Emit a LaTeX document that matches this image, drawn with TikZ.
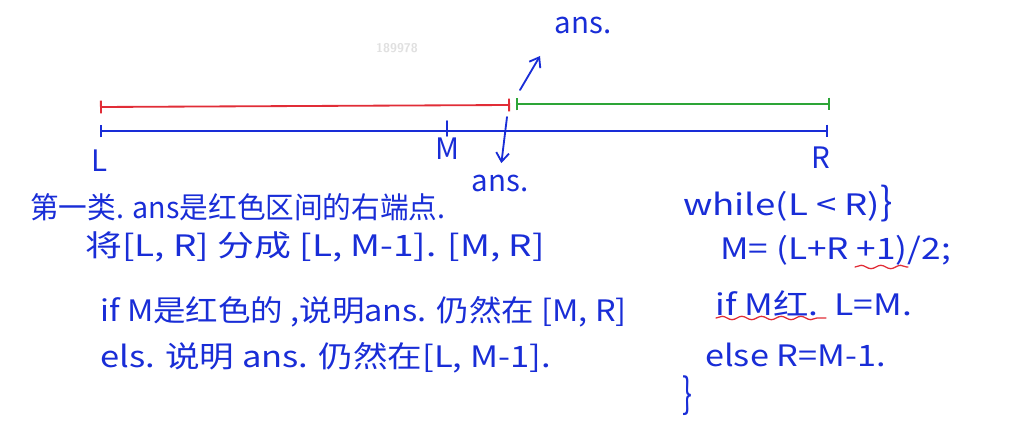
\documentclass[tikz,border=0pt]{standalone}
\usepackage{fontspec}
\usepackage{xcolor}
\newfontfamily\cjk{Noto Sans CJK SC}
\usetikzlibrary{arrows.meta,decorations.pathmorphing,calc}

\definecolor{ink}{RGB}{25,45,215}
\definecolor{inkred}{RGB}{225,45,55}
\definecolor{inkgreen}{RGB}{45,165,55}

% hand writing runs wider than the font
\newcommand{\wide}[2]{\scalebox{#1}[1]{#2}}

\begin{document}
\begin{tikzpicture}[
		x=0.025cm,
		y=-0.025cm,
		line cap=round,
		line join=round,
		seg/.style={
			line width=1.3pt,
			{Bar[width=3.2mm]}-{Bar[width=3.2mm]}
		},
		pointer/.style={
			draw=ink,
			line width=1.3pt,
			-{Straight Barb[length=2.2mm,width=3.2mm]}
		},
		note/.style={
			text=ink,
			anchor=west,
			inner sep=0pt,
			font=\cjk\fontsize{21}{24}\selectfont
		},
		squiggle/.style={
			draw=inkred,
			line width=0.9pt,
			decorate,
			decoration={snake,amplitude=1.2pt,segment length=14pt}
		}
		]
		
		% page
		\fill[white] (0,0) rectangle (1036,432);
		\useasboundingbox (0,0) rectangle (1036,432);
		
		% watermark
		\node[text=black!12,font=\sffamily\bfseries\small] (mark) at (397,48) {189978};
		
		% interval ends
		\coordinate (redL)   at (100,107);
		\coordinate (redR)   at (510,105);
		\coordinate (greenL) at (516,104);
		\coordinate (greenR) at (830,104);
		\coordinate (blueL)  at (100,131);
		\coordinate (blueM)  at (447,130);
		\coordinate (blueR)  at (828,131);
		
		% red and green parts
		\draw[seg,inkred] (redL) -- (redR);
		\draw[seg,inkgreen] (greenL) -- (greenR);
		
		% the whole range
		\draw[seg,ink] (blueL) -- (blueR);
		\draw[ink,line width=1.3pt] ($(blueM)+(0,-9)$) -- ($(blueM)+(0,6)$);
		
		% ends of the range
		\node[note,anchor=center] (L) at (100,161) {L};
		\node[note,anchor=center] (M) at (447,149) {M};
		\node[note,anchor=center] (R) at (821,158) {R};
		
		% the two candidates
		\coordinate (downS) at (507,117);
		\coordinate (upS)   at (520,90);
		\coordinate (upE)   at (540,56);
		\node[note,anchor=center] (ansD) at (500,183) {ans.};
		\node[note,anchor=center] (ansU) at (583,25) {ans.};
		\draw[pointer,shorten >=8pt] (downS) -- (ansD.north);
		\draw[pointer] (upS) -- (upE);
		
		% notes on the left
		\node[note] (t1) at (30,207) {\wide{0.97}{第一类. ans是红色区间的右端点.}};
		\node[note] (t2) at (85,247) {\wide{1.25}{将[L, R] 分成 [L, M-1]. [M, R]}};
		\node[note] (t3) at (100,312) {\wide{1.1}{if M是红色的 ,说明ans. 仍然在 [M, R]}};
		\node[note] (t4) at (100,358) {\wide{1.17}{els. 说明 ans. 仍然在[L, M-1].}};
		
		% code on the right
		\node[note] (c1) at (683,204) {\wide{1.24}{while(L < R)\scalebox{1}[1.3]{\}}}};
		\node[note] (c2) at (720,250) {\wide{1.19}{M= (L+R +1)/2;}};
		\node[note] (c3) at (715,303) {\wide{1.2}{if M红.\ \ L=M.}};
		\node[note] (c4) at (705,355) {\wide{1.16}{else R=M-1.}};
		\node[note] (c5) at (682,396) {\scalebox{1}[1.4]{\}}};
		
		% red marks
		\draw[squiggle] (855,267) -- (908,267);
		\draw[squiggle] (716,318) -- (826,318);
\end{tikzpicture}
\end{document}
